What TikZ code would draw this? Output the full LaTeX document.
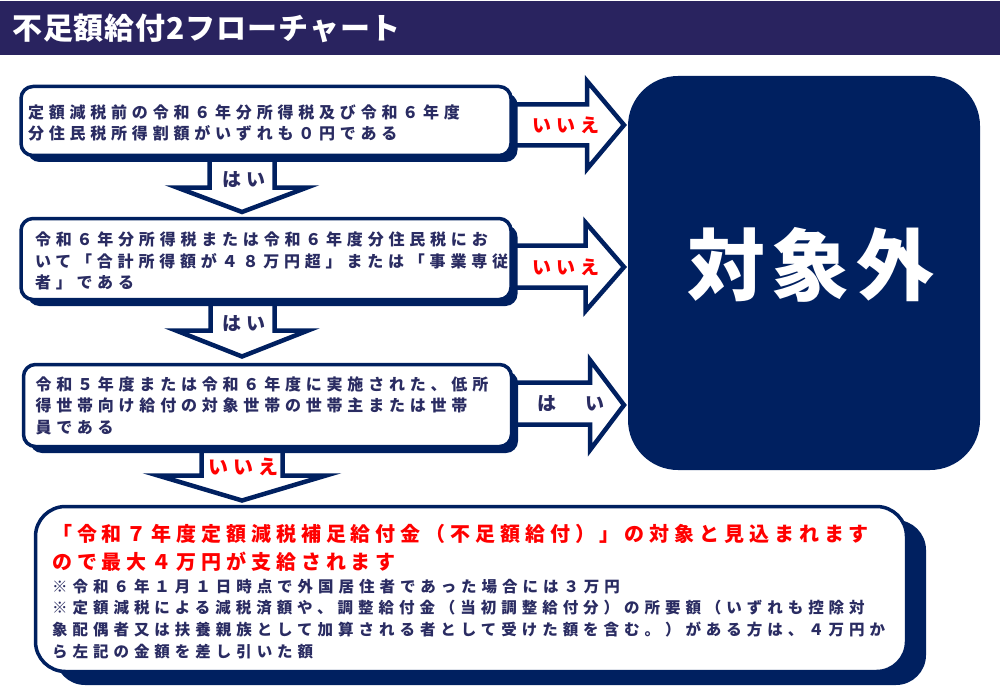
\documentclass[tikz,border=0pt]{standalone}
\usepackage{fontspec}
\setmainfont{Noto Sans CJK JP}
\newfontfamily\jls{Noto Sans CJK JP}[LetterSpace=30]
\newfontfamily\jln{Noto Sans CJK JP}[LetterSpace=32]
\newfontfamily\jlr{Noto Sans CJK JP}[LetterSpace=24.5]
\newfontfamily\jlt{Noto Sans CJK JP}[LetterSpace=3]
\newfontfamily\jlb{Noto Sans CJK JP}[LetterSpace=8]
\newfontfamily\jll{Noto Sans CJK JP}[LetterSpace=25]
\usetikzlibrary{shadows,calc}
\definecolor{boxnavy}{HTML}{002060}
\definecolor{barnavy}{HTML}{29235F}
\definecolor{txtnavy}{HTML}{2A2C62}
\definecolor{ored}{HTML}{FF0000}
\pgfdeclarelayer{bg}
\pgfsetlayers{bg,main}
\tikzset{
  cond/.style={rectangle, rounded corners=12pt, fill=white, draw=boxnavy,
    line width=3.5pt, outer sep=0pt, anchor=north west, minimum width=490pt,
    align=left, text=txtnavy, inner ysep=0pt,
    font=\jls\bfseries\fontsize{16}{21.5}\selectfont,
    drop shadow={shadow xshift=6.5pt, shadow yshift=-6.5pt, fill=boxnavy, opacity=1}},
  resbox/.style={rectangle, rounded corners=30pt, fill=white, draw=boxnavy,
    line width=3.5pt, outer sep=0pt, anchor=north west, inner sep=0pt,
    drop shadow={shadow xshift=19.5pt, shadow yshift=-13.5pt, fill=boxnavy, opacity=1}},
  rline/.style={anchor=base west, inner sep=0pt, text=ored,
    font=\jlr\bfseries\fontsize{20}{24}\selectfont},
  nline/.style={anchor=base west, inner sep=0pt, text=txtnavy,
    font=\jln\bfseries\fontsize{15.5}{20}\selectfont},
  outbox/.style={rectangle, rounded corners=50pt, fill=boxnavy, draw=none,
    minimum width=352pt, minimum height=394pt, inner sep=0pt},
  barrow/.style={fill=white, draw=boxnavy, line width=4.5pt, line join=miter},
  lab/.style={inner sep=0pt, font=\jll\bfseries\fontsize{19}{19}\selectfont},
}
\begin{document}
\begin{tikzpicture}[x=1pt,y=-1pt]
\useasboundingbox (0,0) rectangle (1000,687);
% title bar
\fill[barnavy] (0,1) rectangle (1000,55);
\node[anchor=west, inner sep=0pt, text=white, font=\jlt\bfseries\fontsize{30}{30}\selectfont] (title) at (12,28) {不足額給付2フローチャート};

% condition boxes
\node[cond, minimum height=69pt, inner xsep=7pt, text width=476pt] (b1) at (21,86.5)
  {\rule{0pt}{17.8pt}定額減税前の令和６年分所得税及び令和６年度\\分住民税所得割額がいずれも０円である};
\node[cond, minimum height=81pt, inner xsep=14pt, text width=462pt] (b2) at (21,218.5)
  {\rule{0pt}{17.8pt}令和６年分所得税または令和６年度分住民税にお\\いて「合計所得額が４８万円超」または「事業専従\\者」である};
\node[cond, minimum height=82pt, minimum width=488pt, inner xsep=12pt, text width=464pt] (b3) at (23.5,364.5)
  {令和５年度または令和６年度に実施された、低所\\得世帯向け給付の対象世帯の世帯主または世帯\\員である};

% result box
\node[resbox, minimum width=871pt, minimum height=165pt] (b4) at (35.5,506.5) {};
\node[rline] (r1) at (52,541.6) {「令和７年度定額減税補足給付金（不足額給付）」の対象と見込まれます};
\node[rline] (r2) at (52,569.6) {ので最大４万円が支給されます};
\node[nline] (m1) at (52,592.9) {※令和６年１月１日時点で外国居住者であった場合には３万円};
\node[nline] (m2) at (52,613.9) {※定額減税による減税済額や、調整給付金（当初調整給付分）の所要額（いずれも控除対};
\node[nline] (m3) at (52,635.9) {象配偶者又は扶養親族として加算される者として受けた額を含む。）がある方は、４万円か};
\node[nline] (m4) at (52,657.9) {ら左記の金額を差し引いた額};

% out-of-scope box
\node[outbox] (out) at (804,273) {};
\node[inner sep=0pt, text=white, font=\jlb\bfseries\fontsize{78}{78}\selectfont] (outt) at (811,265) {対象外};

% block arrows (behind the boxes)
\begin{pgfonlayer}{bg}
\draw[barrow] (209.5,150) -- (209.5,187.5) -- (177,187.5) -- (242,212) -- (307,187.5) -- (274.5,187.5) -- (274.5,150) -- cycle;
\draw[barrow] (210.5,295) -- (210.5,330.5) -- (176,330.5) -- (242,356.5) -- (308,330.5) -- (274.5,330.5) -- (274.5,295) -- cycle;
\draw[barrow] (201.5,440) -- (201.5,475.5) -- (158,475.5) -- (242,500.5) -- (326,475.5) -- (282.5,475.5) -- (282.5,440) -- cycle;
\draw[barrow] (505,104.5) -- (587,104.5) -- (587,81) -- (624,125) -- (587,169) -- (587,145.5) -- (505,145.5) -- cycle;
\draw[barrow] (505,245.5) -- (585.5,245.5) -- (585.5,222.5) -- (624,267) -- (585.5,311) -- (585.5,287.5) -- (505,287.5) -- cycle;
\draw[barrow] (505,382.5) -- (590,382.5) -- (590,360) -- (624,405) -- (590,450) -- (590,424.5) -- (505,424.5) -- cycle;
\end{pgfonlayer}

% arrow labels
\node[lab, text=txtnavy] (y1) at (244,180) {はい};
\node[lab, text=txtnavy] (y2) at (244,324) {はい};
\node[lab, text=ored, font=\jll\bfseries\fontsize{20}{20}\selectfont] (n3) at (243,467) {いいえ};
\node[lab, text=ored] (n1) at (566,125) {いいえ};
\node[lab, text=ored] (n2) at (566,267) {いいえ};
\node[lab, text=txtnavy] (y3) at (571,404) {は　い};
\end{tikzpicture}
\end{document}
